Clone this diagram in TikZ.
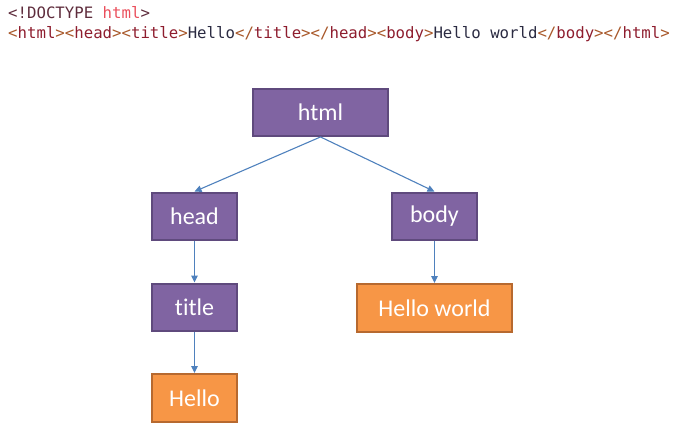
\documentclass[tikz,border=0pt]{standalone}
\usepackage{fontspec}
\setmainfont{Carlito}[Ligatures=NoCommon]
\newfontfamily\codefont{DejaVu Sans Mono}
\usetikzlibrary{arrows.meta}
\definecolor{boxpurple}{HTML}{8064A2}
\definecolor{boxpurpleedge}{HTML}{5F4A7D}
\definecolor{boxorange}{HTML}{F79646}
\definecolor{boxorangeedge}{HTML}{B7692F}
\definecolor{arrowblue}{HTML}{4F81BD}
\definecolor{brk}{HTML}{A8582A}
\definecolor{tagc}{HTML}{8E1D2E}
\definecolor{doct}{HTML}{5E2C3C}
\definecolor{dochtml}{HTML}{EA4F5C}
\definecolor{txtc}{HTML}{2B2B42}
\newcommand{\tg}[1]{\textcolor{brk}{<}\textcolor{tagc}{#1}\textcolor{brk}{>}}
\newcommand{\ctg}[1]{\textcolor{brk}{</}\textcolor{tagc}{#1}\textcolor{brk}{>}}
\begin{document}
\begin{tikzpicture}[x=1pt,y=-1pt,
  treebox/.style={draw, line width=2.4pt, inner sep=0pt, minimum height=47.5pt,
    font=\fontsize{24}{28}\selectfont, text=white},
  elem/.style={treebox, fill=boxpurple, draw=boxpurpleedge},
  txt/.style={treebox, fill=boxorange, draw=boxorangeedge},
  link/.style={draw=arrowblue, line width=1.1pt, -{Triangle[length=7pt,width=6.5pt]}},
  code/.style={anchor=base west, inner sep=0pt, font=\codefont\fontsize{15.7}{18}\selectfont}
]
\useasboundingbox (0,0) rectangle (680,428);
\node[code] (l1) at (8,18.5) {\textcolor{doct}{<!DOCTYPE} \textcolor{dochtml}{html}\textcolor{doct}{>}};
\node[code] (l2) at (8,39) {\tg{html}\tg{head}\tg{title}\textcolor{txtc}{Hello}\ctg{title}\ctg{head}\tg{body}\textcolor{txtc}{Hello world}\ctg{body}\ctg{html}};

\node[elem, minimum width=134.5pt, minimum height=46.5pt] (html) at (320.5,112.5) {html};
\node[elem, minimum width=84.5pt] (head) at (194.5,216.5) {head};
\node[elem, minimum width=84.5pt] (body) at (434.5,216.5) {body};
\node[elem, minimum width=84.5pt] (title) at (194.5,307.5) {title};
\node[txt, minimum width=154.5pt] (hw) at (434.5,308) {Hello world};
\node[txt, minimum width=84.5pt] (hello) at (194.5,398) {Hello};

\draw[link] (html.south) -- (head.north);
\draw[link] (html.south) -- (body.north);
\draw[link] (head.south) -- (title.north);
\draw[link] (body.south) -- (hw.north);
\draw[link] (title.south) -- (hello.north);
\end{tikzpicture}
\end{document}
